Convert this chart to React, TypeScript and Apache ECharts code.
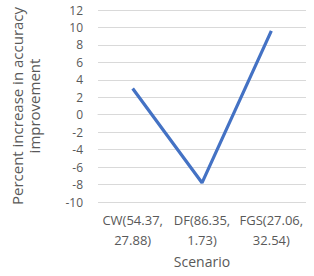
import React, { useEffect, useRef } from "react";
import * as echarts from "echarts";

const categories = ["CW(54.37,\n27.88)", "DF(86.35,\n1.73)", "FGS(27.06,\n32.54)"];
const values = [3.0, -7.8, 9.6];
const yMin = -10;
const yMax = 12;
const yStep = 2;

export default function App() {
  const ref = useRef<HTMLDivElement>(null);
  useEffect(() => {
    if (!ref.current) return;
    const chart = echarts.init(ref.current, undefined, { renderer: "svg" });
    const font = "'Open Sans', 'Noto Sans', sans-serif";
    chart.setOption({
      animation: false,
      textStyle: { fontFamily: font },
      grid: { left: 80, right: 8, top: 10, bottom: 74, containLabel: false },
      xAxis: {
        type: "category",
        data: categories,
        boundaryGap: true,
        axisLine: { show: true, lineStyle: { color: "#d9d9d9", width: 1 } },
        axisTick: { show: false },
        axisLabel: { color: "#595959", fontSize: 13, fontFamily: font, lineHeight: 20, margin: 8, interval: 0 },
        name: "Scenario",
        nameLocation: "middle",
        nameGap: 52,
        nameTextStyle: { color: "#595959", fontSize: 14, fontFamily: font },
      },
      yAxis: {
        type: "value",
        min: yMin,
        max: yMax,
        interval: yStep,
        axisLine: { show: false },
        axisTick: { show: false },
        splitLine: { lineStyle: { color: "#d9d9d9", width: 1 } },
        axisLabel: { color: "#595959", fontSize: 12, fontFamily: font, margin: 15 },
        name: "Percent increase in accuracy\nimprovement",
        nameLocation: "middle",
        nameGap: 56,
        nameTextStyle: { color: "#595959", fontSize: 15, fontFamily: font, lineHeight: 17 },
      },
      series: [
        {
          type: "line",
          data: values,
          symbol: "none",
          lineStyle: { color: "#4472C4", width: 3.2 },
        },
      ],
    });
    return () => chart.dispose();
  }, []);
  return <div ref={ref} style={{ width: 314, height: 276, position: "absolute", left: 0, top: 0, background: "#fff" }} />;
}
